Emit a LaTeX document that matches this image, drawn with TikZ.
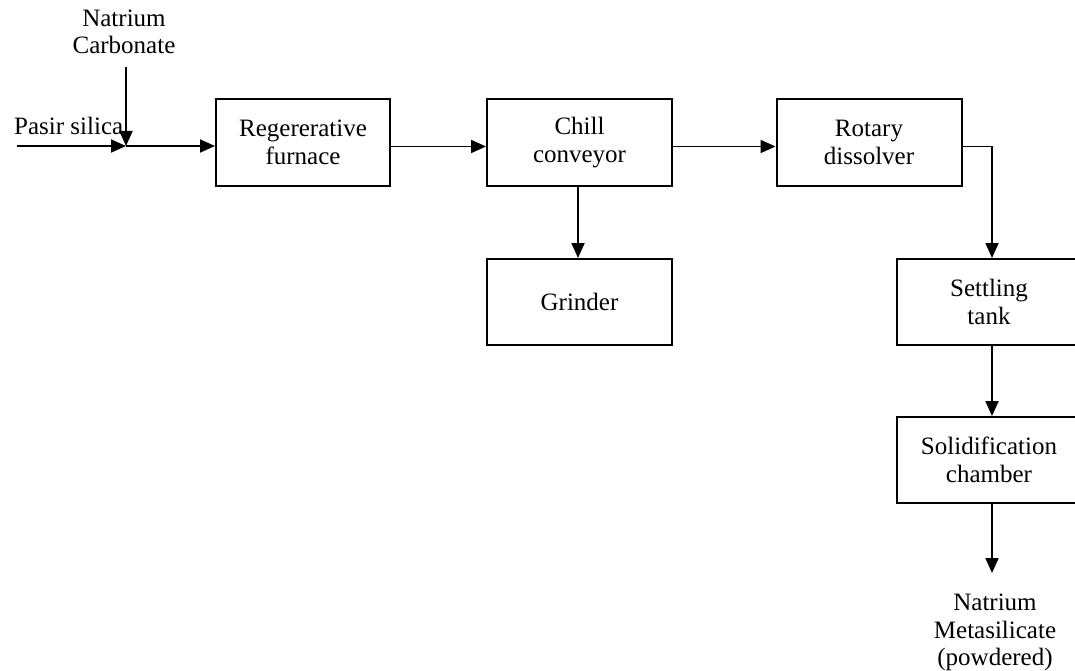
\documentclass[tikz,border=0pt]{standalone}
\usepackage{fontspec}
\setmainfont{Liberation Serif}
\usetikzlibrary{arrows.meta}
\begin{document}
\begin{tikzpicture}[x=1pt,y=-1pt,
  box/.style={draw,line width=2pt,minimum width=185pt,minimum height=86pt,align=center,inner sep=0pt},
  lbl/.style={align=center,inner sep=0pt},
  flow/.style={line width=1.9pt,-{Triangle[length=15pt,width=13pt]}},
  every node/.append style={font=\fontsize{25}{27.5}\selectfont}]
\useasboundingbox (0,0) rectangle (1075,671);
\fill[white] (0,0) rectangle (1075,671);
\node[box,minimum width=174pt] (furn) at (303,142.5) {Regererative\\furnace};
\node[box] (chill) at (579.5,142.5) {Chill\\conveyor};
\node[box] (grind) at (579.5,302) {Grinder};
\node[box] (rot) at (869,142.5) {Rotary\\dissolver};
\node[box] (settle) at (989,302) {Settling\\tank};
\node[box] (solid) at (989,460) {Solidification\\chamber};
\node[lbl,anchor=north] (nc) at (124,9.7) {Natrium\\Carbonate};
\node[lbl,anchor=base west] (ps) at (14,135) {Pasir silica};
\node[lbl,anchor=north,inner ysep=21pt] (out) at (995,573) {Natrium\\Metasilicate\\(powdered)};
\coordinate (j) at (126,146);
\coordinate (s) at (17,146);
\draw[flow] (s) -- (j);
\draw[flow] ([yshift=-13pt]nc.south -| j) -- (j);
\draw[flow] (j) -- (j -| furn.west);
\draw[flow] ([yshift=-4pt]furn.east) -- ([yshift=-4pt]chill.west);
\draw[flow] ([yshift=-4pt]chill.east) -- ([yshift=-4pt]rot.west);
\draw[flow] ([xshift=-1.5pt]chill.south) -- ([xshift=-1.5pt]grind.north);
\draw[flow] ([yshift=-4pt]rot.east) -| ([xshift=3pt]settle.north);
\draw[flow] ([xshift=3pt]settle.south) -- ([xshift=3pt]solid.north);
\draw[flow] ([xshift=3pt]solid.south) -- ([xshift=3pt]solid.south |- out.north);
\end{tikzpicture}
\end{document}
